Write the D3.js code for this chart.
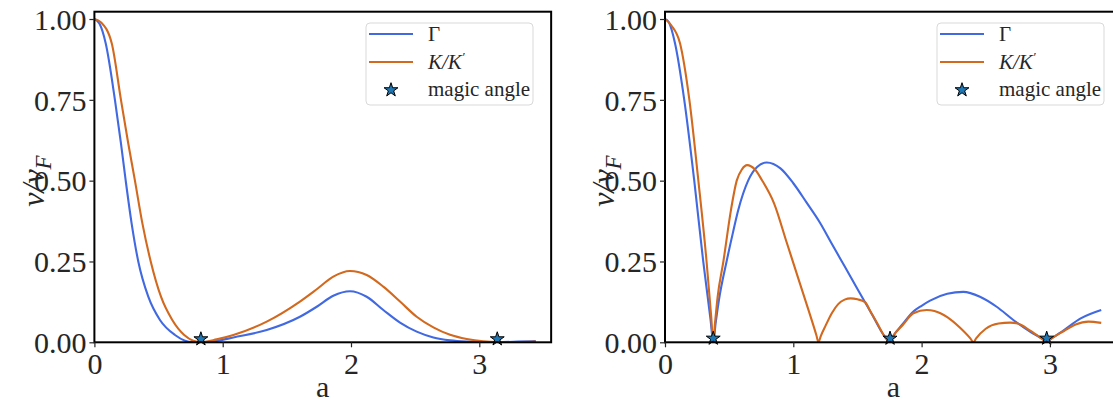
<!DOCTYPE html>
<html>
<head>
<meta charset="utf-8">
<script src="https://cdn.jsdelivr.net/npm/d3@7"></script>
<style>
  html, body { margin: 0; padding: 0; background: #fff; }
  svg { display: block; }
  text { font-family: "Liberation Serif", "DejaVu Serif", serif; }
</style>
</head>
<body>
<svg id="chart" width="1113" height="403"></svg>
<script>
// ---------- data ----------
const xTicks = [0, 1, 2, 3];
const yTicks = [0, 0.25, 0.5, 0.75, 1.0];
const seriesNames = ["Γ", "K/K′", "magic angle"];

// Left panel
const leftGammaA = [0, 0.04, 0.088, 0.16, 0.207, 0.244, 0.29, 0.342, 0.42, 0.511, 0.628, 0.706, 0.76, 0.83, 0.95, 1.083, 1.343, 1.602, 1.733, 1.862, 1.992, 2.122, 2.252, 2.382, 2.512, 2.642, 2.772, 2.902, 3.03, 3.14, 3.3, 3.44];
const leftGammaV = [1, 0.985, 0.925, 0.75, 0.615, 0.5, 0.368, 0.25, 0.141, 0.069, 0.0226, 0.005, 0.0005, 0.0005, 0.004, 0.015, 0.038, 0.079, 0.110, 0.144, 0.158, 0.141, 0.100, 0.061, 0.033, 0.015, 0.006, 0.002, 0.0005, 0.0005, 0.002, 0.004];
const leftKA = [0, 0.05, 0.135, 0.207, 0.264, 0.316, 0.374, 0.439, 0.519, 0.607, 0.70, 0.77, 0.83, 0.953, 1.083, 1.343, 1.602, 1.733, 1.862, 1.992, 2.122, 2.252, 2.382, 2.512, 2.642, 2.772, 2.902, 3.03, 3.14, 3.3, 3.44];
const leftKV = [1, 0.99, 0.925, 0.75, 0.615, 0.5, 0.368, 0.25, 0.141, 0.069, 0.0226, 0.005, 0.0005, 0.009, 0.0226, 0.064, 0.126, 0.164, 0.203, 0.2205, 0.208, 0.172, 0.126, 0.079, 0.046, 0.023, 0.010, 0.003, 0.001, 0.001, 0.002];
const leftMagicA = [0.83, 3.14];
const leftMagicV = [0.01, 0.01];

// Right panel
const rightGammaA = [0, 0.03, 0.078, 0.15, 0.228, 0.298, 0.355, 0.376, 0.395, 0.42, 0.48, 0.53, 0.571, 0.648, 0.72, 0.793, 0.9, 1.0, 1.104, 1.208, 1.3, 1.4, 1.5, 1.6, 1.714, 1.754, 1.78, 1.85, 1.936, 2.0, 2.066, 2.2, 2.325, 2.455, 2.585, 2.715, 2.845, 2.95, 2.975, 3.0, 3.11, 3.24, 3.4];
const rightGammaV = [1, 0.99, 0.925, 0.75, 0.5, 0.25, 0.07, 0.0, 0.06, 0.13, 0.25, 0.34, 0.409, 0.5, 0.543, 0.556, 0.538, 0.492, 0.432, 0.37, 0.305, 0.235, 0.165, 0.096, 0.017, 0.0, 0.02, 0.055, 0.095, 0.113, 0.129, 0.15, 0.156, 0.141, 0.110, 0.069, 0.033, 0.008, 0.0, 0.008, 0.038, 0.074, 0.10];
const rightKA = [0, 0.05, 0.117, 0.19, 0.26, 0.324, 0.36, 0.376, 0.39, 0.41, 0.455, 0.514, 0.559, 0.6, 0.64, 0.7, 0.755, 0.85, 0.95, 1.05, 1.12, 1.18, 1.196, 1.215, 1.25, 1.3, 1.35, 1.4, 1.447, 1.5, 1.56, 1.6, 1.65, 1.714, 1.754, 1.78, 1.85, 1.936, 2.04, 2.1, 2.2, 2.3, 2.38, 2.404, 2.425, 2.5, 2.6, 2.69, 2.75, 2.85, 2.95, 2.975, 3.0, 3.11, 3.2, 3.3, 3.4];
const rightKV = [1, 0.98, 0.925, 0.75, 0.5, 0.25, 0.08, 0.0, 0.06, 0.14, 0.25, 0.409, 0.5, 0.535, 0.548, 0.535, 0.502, 0.43, 0.307, 0.184, 0.098, 0.022, 0.0, 0.02, 0.05, 0.09, 0.118, 0.132, 0.136, 0.133, 0.124, 0.096, 0.062, 0.017, 0.0, 0.02, 0.052, 0.09, 0.1, 0.097, 0.078, 0.045, 0.012, 0.0, 0.012, 0.042, 0.058, 0.061, 0.058, 0.035, 0.007, 0.0, 0.008, 0.035, 0.055, 0.064, 0.06];
const rightMagicA = [0.376, 1.754, 2.975];
const rightMagicV = [0.012, 0.012, 0.012];

// ---------- drawing ----------
const svg = d3.select("#chart");
const BLUE = "#4169e1", ORANGE = "#d2691e", STAR = "#1f77b4", TXT = "#262626";

function panel(cfg) {
  const x = d3.scaleLinear().domain([0, 3.56]).range([cfg.left, cfg.left + 3.56 * 128.3]);
  const y = d3.scaleLinear().domain([0, 1.0226]).range([342.3, 11.7]);
  const g = svg.append("g");
  const clipId = "clip" + cfg.id;
  svg.append("clipPath").attr("id", clipId).append("rect")
    .attr("x", x(0)).attr("y", y(1.0226)).attr("width", x(3.56) - x(0)).attr("height", y(0) - y(1.0226));

  const line = d3.line().x(d => x(d[0])).y(d => y(d[1])).curve(d3.curveMonotoneX);
  const series = [
    { a: cfg.gA, v: cfg.gV, c: BLUE },
    { a: cfg.kA, v: cfg.kV, c: ORANGE }
  ];
  series.forEach(s => {
    g.append("path").attr("d", line(s.a.map((a, i) => [a, s.v[i]])))
      .attr("fill", "none").attr("stroke", s.c).attr("stroke-width", 2.1)
      .attr("clip-path", `url(#${clipId})`);
  });

  const star = d3.symbol().type(d3.symbolStar).size(60);
  cfg.mA.forEach((a, i) => {
    g.append("path").attr("d", star()).attr("transform", `translate(${x(a)},${y(cfg.mV[i])})`)
      .attr("fill", STAR).attr("stroke", "#000").attr("stroke-width", 1);
  });

  // spines
  const x0 = x(0), x1 = x(3.56), y0 = y(0), y1 = y(1.0226);
  g.append("rect").attr("x", x0).attr("y", y1).attr("width", x1 - x0).attr("height", y0 - y1)
    .attr("fill", "none").attr("stroke", "#000").attr("stroke-width", 2);

  // ticks
  const xa = g.append("g").attr("transform", `translate(0,${y0})`)
    .call(d3.axisBottom(x).tickValues(xTicks).tickFormat(d3.format("d")).tickSize(5).tickPadding(4));
  const ya = g.append("g").attr("transform", `translate(${x0},0)`)
    .call(d3.axisLeft(y).tickValues(yTicks).tickFormat(d3.format(".2f")).tickSize(5).tickPadding(3));
  [xa, ya].forEach(ax => {
    ax.select(".domain").remove();
    ax.selectAll(".tick line").attr("stroke", TXT).attr("stroke-width", 1.2);
    ax.selectAll(".tick text").attr("fill", TXT).style("font-size", "30px")
      .style("font-family", "'Liberation Serif', serif");
  });
  xa.selectAll(".tick text").attr("dy", "0.76em");
  ya.selectAll(".tick text").attr("dy", "0.34em");

  // axis labels
  g.append("text").attr("x", (x0 + x1) / 2).attr("y", 397).attr("text-anchor", "middle")
    .attr("fill", TXT).style("font-size", "30px").text("a");
  const yl = g.append("text").attr("transform", `translate(${cfg.ylabX},${(y0 + y1) / 2 + 4}) rotate(-90)`)
    .attr("text-anchor", "middle").attr("fill", TXT).style("font-size", "32px").style("font-style", "italic");
  yl.append("tspan").text("ν/ν");
  yl.append("tspan").attr("dy", 7).style("font-size", "23px").text("F");

  // legend
  const L = cfg.legX;
  g.append("rect").attr("x", L).attr("y", 23).attr("width", 167).attr("height", 82).attr("rx", 4)
    .attr("fill", "#fff").attr("fill-opacity", 0.8).attr("stroke", "#d9d9d9").attr("stroke-width", 1);
  const rows = [34, 62, 90];
  [BLUE, ORANGE].forEach((c, i) => {
    g.append("line").attr("x1", L + 3).attr("x2", L + 47).attr("y1", rows[i]).attr("y2", rows[i])
      .attr("stroke", c).attr("stroke-width", 2.1);
  });
  g.append("path").attr("d", star()).attr("transform", `translate(${L + 25},${rows[2]})`)
    .attr("fill", STAR).attr("stroke", "#000").attr("stroke-width", 1);
  g.append("text").attr("x", L + 62).attr("y", rows[0] + 7).attr("fill", TXT).style("font-size", "21px").text(seriesNames[0]);
  const kt = g.append("text").attr("x", L + 62).attr("y", rows[1] + 7).attr("fill", TXT).style("font-size", "21px")
    .style("font-style", "italic");
  kt.append("tspan").text("K/K");
  kt.append("tspan").attr("dy", -8).style("font-size", "13px").text("′");
  g.append("text").attr("x", L + 62).attr("y", rows[2] + 6).attr("fill", TXT).style("font-size", "21px").text(seriesNames[2]);
}

panel({ id: "L", left: 94.4, gA: leftGammaA, gV: leftGammaV, kA: leftKA, kV: leftKV, mA: leftMagicA, mV: leftMagicV, ylabX: 44, legX: 366 });
panel({ id: "R", left: 665, gA: rightGammaA, gV: rightGammaV, kA: rightKA, kV: rightKV, mA: rightMagicA, mV: rightMagicV, ylabX: 614, legX: 937 });
</script>
</body>
</html>
